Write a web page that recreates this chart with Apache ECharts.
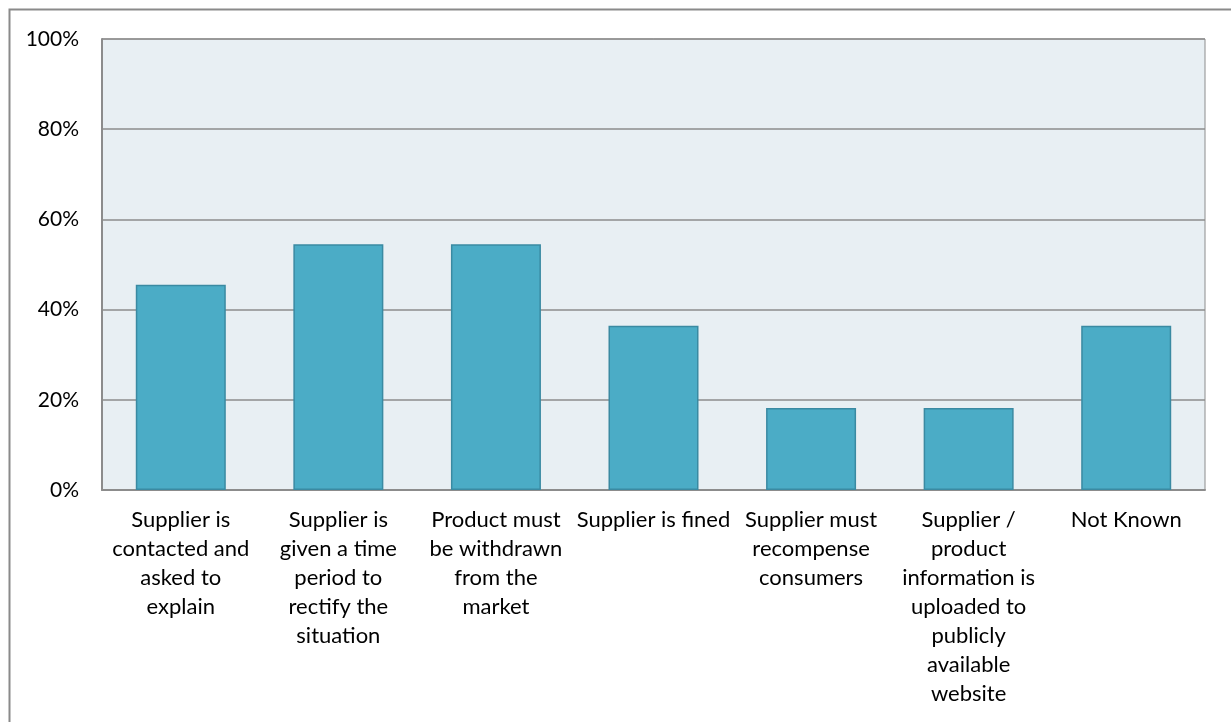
<!DOCTYPE html>
<html>
<head>
<meta charset="utf-8">
<script src="https://cdn.jsdelivr.net/npm/echarts@6/dist/echarts.min.js"></script>
<style>
  html, body { margin: 0; padding: 0; background: #fff; }
  #main { width: 1231px; height: 722px; }
</style>
</head>
<body>
<div id="main"></div>
<script>
var chartDom = document.getElementById('main');
var myChart = echarts.init(chartDom);
var option;

// categories (wrapped as in the original)
const categories = [
  'Supplier is\ncontacted and\nasked to\nexplain',
  'Supplier is\ngiven a time\nperiod to\nrectify the\nsituation',
  'Product must\nbe withdrawn\nfrom the\nmarket',
  'Supplier is fined',
  'Supplier must\nrecompense\nconsumers',
  'Supplier /\nproduct\ninformation is\nuploaded to\npublicly\navailable\nwebsite',
  'Not Known'
];
// share of respondents, %
const values = [45.5, 54.5, 54.5, 36.4, 18.2, 18.2, 36.4];

const fontFamily = 'Lato, "Open Sans", sans-serif';

option = {
  animation: false,
  graphic: [
    {
      type: 'rect',
      shape: { x: 9.5, y: 9.5, width: 1240, height: 740 },
      style: { fill: 'none', stroke: '#8a8a8a', lineWidth: 2 },
      silent: true
    }
  ],
  grid: {
    left: 102,
    right: 26,
    top: 39,
    bottom: 232,
    show: true,
    backgroundColor: '#e8eff3',
    borderColor: '#8c8c8c',
    borderWidth: 1
  },
  xAxis: {
    type: 'category',
    data: categories,
    axisTick: { show: false },
    axisLine: { lineStyle: { color: '#8c8c8c', width: 2 } },
    axisLabel: {
      interval: 0,
      margin: 15,
      color: '#000',
      fontSize: 22,
      lineHeight: 29,
      fontFamily: fontFamily,
      align: 'center'
    }
  },
  yAxis: {
    type: 'value',
    min: 0,
    max: 100,
    interval: 20,
    axisLine: { show: true, lineStyle: { color: '#8c8c8c', width: 2 } },
    axisTick: { show: false },
    splitLine: { lineStyle: { color: '#8c8c8c', width: 1.5 } },
    axisLabel: {
      formatter: '{value}%',
      margin: 23,
      color: '#000',
      fontSize: 21,
      fontFamily: fontFamily
    }
  },
  series: [
    {
      type: 'bar',
      data: values,
      barWidth: 90,
      itemStyle: {
        color: '#4bacc6',
        borderColor: '#3a8aa2',
        borderWidth: 1.5
      }
    }
  ]
};

option && myChart.setOption(option);
</script>
</body>
</html>
